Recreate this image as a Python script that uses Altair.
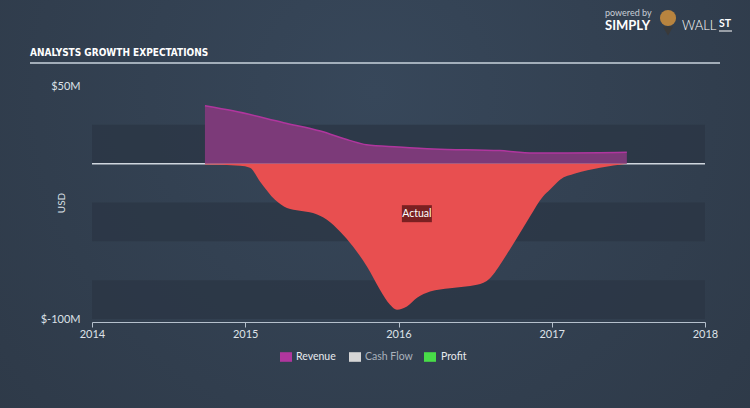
import altair as alt
import pandas as pd

# ---- data ----
rev_years = [2014.737, 2014.92, 2015.25, 2015.49, 2015.68, 2015.79, 2016.0, 2016.23, 2016.66, 2016.88, 2017.1, 2017.49]
rev_vals = [37.3, 34.0, 26.4, 21.0, 15.0, 12.2, 10.8, 9.5, 8.4, 6.9, 6.9, 7.3]

profit_years = [2014.737, 2014.966, 2015.031, 2015.096, 2015.194, 2015.272, 2015.357, 2015.442,
                2015.533, 2015.618, 2015.703, 2015.794, 2015.879, 2015.945, 2015.99, 2016.055,
                2016.121, 2016.206, 2016.336, 2016.512, 2016.597, 2016.682, 2016.773, 2016.858,
                2016.943, 2016.989, 2017.054, 2017.152, 2017.315, 2017.491]
profit_vals = [-0.6, -1.3, -2.7, -11.4, -23.2, -28.5, -30.3, -31.8,
               -36.1, -43.6, -53.3, -66.2, -81.1, -90.8, -94.0, -91.9,
               -86.3, -82.3, -80.2, -78.0, -73.7, -62.1, -47.9, -34.0,
               -21.1, -16.7, -10.3, -6.4, -2.6, 0.0]

band_top = [25, -25, -75]
band_bottom = [0, -50, -100]
x_ticks = [2014, 2015, 2016, 2017, 2018]
y_ticks = [50, -100]
legend_names = ["Revenue", "Cash Flow", "Profit"]
legend_colors = ["#b0369e", "#d6d6d6", "#48dd48"]
label_year = [2016.12]
label_val = [-32.2]
label_text = ["Actual"]
title_text = "ANALYSTS GROWTH EXPECTATIONS"

# ---- layout ----
W, H = 613, 233
FONT = "Lato"
TXT = "#dde2e8"
xs = alt.Scale(domain=[2014, 2018], nice=False, zero=False)
ys = alt.Scale(domain=[-100, 50], nice=False, zero=False)

x_axis = alt.Axis(values=x_ticks, format="d", title=None, grid=False, offset=3, zindex=2,
                  domainColor="#b5c0cc", tickColor="#b5c0cc", tickSize=5, labelFlush=False,
                  labelColor=TXT, labelFontSize=11, labelFont=FONT, labelPadding=1)
y_axis = alt.Axis(values=y_ticks, labelExpr="'$' + datum.value + 'M'", title=None, grid=False,
                  domain=False, ticks=False, labelColor=TXT, labelFontSize=11, labelFont=FONT,
                  labelPadding=12, zindex=2)


def X(f):
    return alt.X(f, scale=xs, axis=x_axis, title=None)


def Y(f):
    return alt.Y(f, scale=ys, axis=y_axis, title=None)


one = pd.DataFrame({"a": [0]})

# subtle radial background
bg = alt.Chart(one).mark_rect(
    color=alt.RadialGradient(gradient="radial", x1=0.5, y1=0.35, x2=0.5, y2=0.35, r1=0, r2=0.75,
                             stops=[alt.GradientStop(offset=0, color="#37475a"),
                                    alt.GradientStop(offset=1, color="#2d3846")])
).encode(x=alt.value(-92), x2=alt.value(658), y=alt.value(-86), y2=alt.value(322))

bands_df = pd.DataFrame({"x": [x_ticks[0]] * 3, "x2": [x_ticks[-1]] * 3,
                         "top": band_top, "bottom": band_bottom})
bands = alt.Chart(bands_df).mark_rect(color="#2b3644", opacity=0.75).encode(
    x=X("x:Q"), x2="x2:Q", y=Y("top:Q"), y2="bottom:Q")

zero_df = pd.DataFrame({"x": [x_ticks[0]], "x2": [x_ticks[-1]], "y": [0]})
zero = alt.Chart(zero_df).mark_rule(color="#cfd6de", strokeWidth=1.5).encode(
    x=X("x:Q"), x2="x2:Q", y=Y("y:Q"))

rev_df = pd.DataFrame({"x": rev_years, "y": rev_vals})
revenue = alt.Chart(rev_df).mark_area(
    color="#7c3a79", opacity=1, interpolate="monotone",
    line={"color": "#b0369e", "strokeWidth": 1.5},
).encode(x=X("x:Q"), y=Y("y:Q"), y2=alt.datum(0))

pr_df = pd.DataFrame({"x": profit_years, "y": profit_vals})
profit = alt.Chart(pr_df).mark_area(color="#e84f50", opacity=1, interpolate="monotone").encode(
    x=X("x:Q"), y=Y("y:Q"), y2=alt.datum(0))

lab_df = pd.DataFrame({"x": label_year, "y": label_val, "t": label_text})
lab_box = alt.Chart(lab_df).mark_point(
    shape="M-1,-0.567L1,-0.567L1,0.567L-1,0.567Z", size=900, filled=True,
    color="#7a2022", opacity=1).encode(x=X("x:Q"), y=Y("y:Q"))
lab_txt = alt.Chart(lab_df).mark_text(color="white", fontSize=10.5, font=FONT).encode(
    x=X("x:Q"), y=Y("y:Q"), text="t:N")

title = alt.Chart(one).mark_text(
    text=title_text, align="left", baseline="middle", x=-62, y=-33,
    font="'DejaVu Sans Condensed', 'Open Sans', sans-serif",
    fontWeight="bold", fontSize=10, color="white")
underline = alt.Chart(one).mark_rule(color="#c9d3dc", strokeWidth=1.5).encode(
    x=alt.value(-62), x2=alt.value(628), y=alt.value(-23))

usd = alt.Chart(one).mark_text(text="USD", angle=270, x=-30, y=117, fontSize=10,
                                font=FONT, color=TXT)

# logo
logo = [
    alt.Chart(one).mark_text(text="powered by", align="left", baseline="middle", x=513, y=-73,
                             fontSize=9, font=FONT, color="#c8ced6"),
    alt.Chart(one).mark_text(text="SIMPLY", align="left", baseline="middle", x=513, y=-60,
                             fontSize=13, fontWeight="bold", font=FONT, color="white"),
    alt.Chart(one).mark_point(shape="circle", filled=True, size=260, color="#b8843f",
                              opacity=1, x=576, y=-68),
    alt.Chart(one).mark_point(shape="triangle-down", filled=True, size=110, color="#3a3a3a",
                              opacity=1, x=576, y=-55),
    alt.Chart(one).mark_text(text="WALL", align="left", baseline="middle", x=590, y=-60,
                             fontSize=13, fontWeight=300, font=FONT, color="white"),
    alt.Chart(one).mark_text(text="ST", align="left", baseline="middle", x=627, y=-62,
                             fontSize=10.5, fontWeight="bold", font=FONT, color="white"),
    alt.Chart(one).mark_rule(color="white", strokeWidth=1).encode(
        x=alt.value(627), x2=alt.value(640), y=alt.value(-55)),
]

# legend
sw_x = [194, 263, 338]
tx_x = [204, 273, 349]
tx_col = ["#e8eaee", "#aab2bc", "#e8eaee"]
legend = []
for i, name in enumerate(legend_names):
    legend.append(alt.Chart(one).mark_point(
        shape="M-1,-0.8L1,-0.8L1,0.8L-1,0.8Z", size=144, filled=True, opacity=1,
        color=legend_colors[i], x=sw_x[i], y=271))
    legend.append(alt.Chart(one).mark_text(
        text=name, align="left", baseline="middle", x=tx_x[i], y=271,
        fontSize=10.5, font=FONT, color=tx_col[i]))

chart = alt.layer(bg, bands, zero, revenue, profit, lab_box, lab_txt, title, underline, usd,
                  *logo, *legend).properties(
    width=W, height=H, autosize="none",
    padding={"left": 92, "top": 86, "right": 45, "bottom": 89},
    background="#313d4c",
).configure_view(stroke=None)

chart.save("out.html", embed_options={"renderer": "svg", "actions": False})
